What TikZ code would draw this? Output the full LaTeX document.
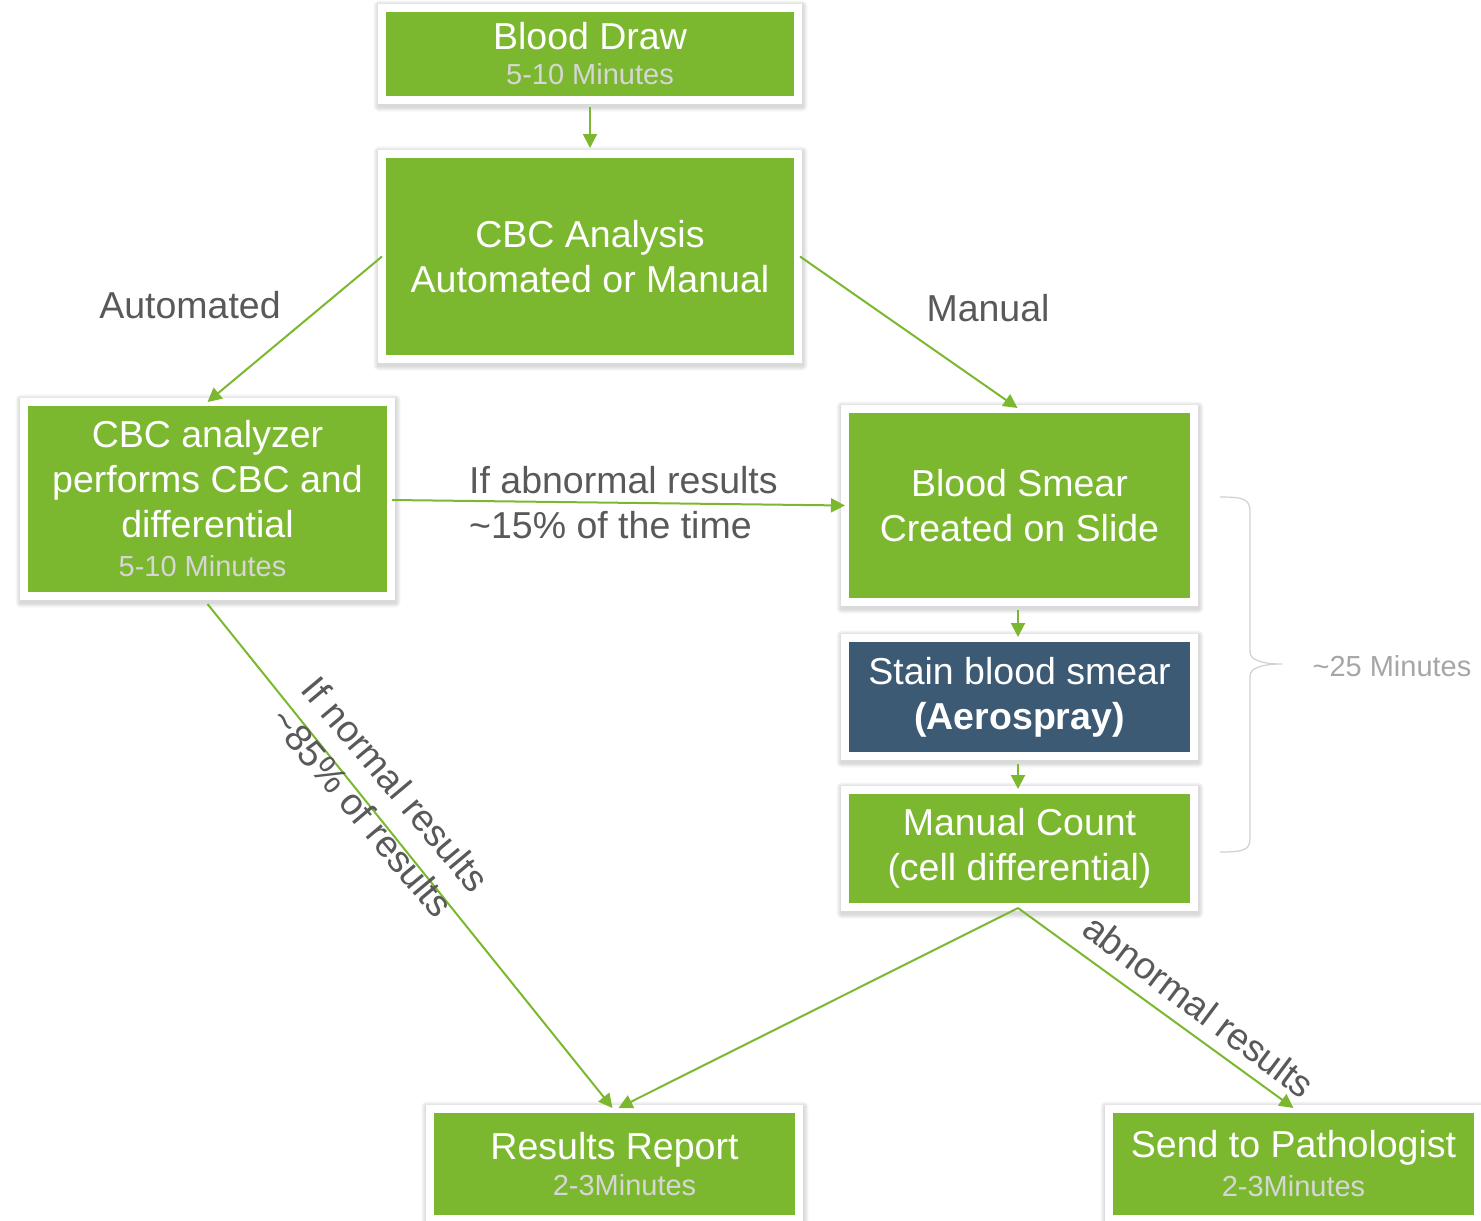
\documentclass[tikz,border=0pt]{standalone}
\usepackage{fontspec}
\setmainfont{Liberation Sans}
\usetikzlibrary{arrows.meta,backgrounds}
\definecolor{cgreen}{HTML}{7CB82F}
\definecolor{cblue}{HTML}{3D5A74}
\definecolor{csub}{HTML}{D6D6D6}
\definecolor{clabel}{HTML}{595959}
\definecolor{cnote}{HTML}{A6A6A6}
\definecolor{cbrace}{HTML}{D0D0D0}
\newcommand\boxsub[1]{{\fontsize{29}{33}\selectfont\color{csub}#1}}
\newcommand\softshadow[1]{%
  \foreach \k in {1,2,3,4,5}{%
    \fill[black, opacity=.03, rounded corners=\k pt]
      ([xshift=-\k pt+0.5pt, yshift=\k pt-1.5pt]#1.north west) rectangle
      ([xshift=\k pt+0.5pt, yshift=-\k pt-2.5pt]#1.south east);
  }}
\begin{document}
\begin{tikzpicture}[x=1pt,y=-1pt,
  box/.style={draw=white, line width=8pt, fill=cgreen, text=white, align=center, inner sep=0pt,
    font=\fontsize{37.5}{45}\selectfont},
  conn/.style={draw=cgreen, line width=2pt, -{Triangle[length=14pt,width=14pt]}},
  lbl/.style={text=clabel, font=\fontsize{37.5}{45}\selectfont, inner sep=0pt}]
\useasboundingbox (0,0) rectangle (1481,1221);

% boxes
\node[box, minimum width=416pt, minimum height=92pt] (bd) at (590,54)
  {Blood Draw\\[-10pt]\boxsub{5-10 Minutes}};
\node[box, minimum width=416pt, minimum height=205pt] (cbc) at (590,256.5)
  {CBC Analysis\\Automated or Manual};
\node[box, minimum width=367pt, minimum height=194pt] (ana) at (207.5,499)
  {CBC analyzer\\performs CBC and\\differential\\[-6pt]\hspace*{-10pt}\boxsub{5-10 Minutes}};
\node[box, minimum width=349pt, minimum height=193pt] (smear) at (1019.5,505.5)
  {Blood Smear\\Created on Slide};
\node[box, fill=cblue, minimum width=349pt, minimum height=118pt] (stain) at (1019.5,697)
  {Stain blood smear\\\textbf{(Aerospray)}};
\node[box, minimum width=349pt, minimum height=117pt] (mc) at (1019.5,848.5)
  {Manual Count\\(cell differential)};
\node[box, minimum width=369pt, minimum height=110pt] (rr) at (614.5,1164)
  {Results Report\\[-9pt]\hspace*{20pt}\boxsub{2-3Minutes}};
\node[box, minimum width=369pt, minimum height=110pt] (sp) at (1293.5,1164)
  {Send to Pathologist\\[-6pt]\boxsub{2-3Minutes}};

\begin{scope}[on background layer]
  \softshadow{bd}\softshadow{cbc}\softshadow{ana}\softshadow{smear}
  \softshadow{stain}\softshadow{mc}\softshadow{rr}\softshadow{sp}
\end{scope}

% connectors
\draw[conn] ([yshift=-3pt]bd.south) -- ([yshift=2pt]cbc.north);
\draw[conn] ([xshift=4pt]cbc.west) -- ([yshift=-4pt]ana.north);
\draw[conn] ([xshift=-2pt]cbc.east) -- ([xshift=-2pt,yshift=-3pt]smear.north);
\draw[conn] ([xshift=-3pt,yshift=-1pt]ana.east) -- ([xshift=4pt]smear.west);
\draw[conn] ([xshift=-1.5pt,yshift=-4pt]smear.south) -- ([xshift=-1.5pt,yshift=-3pt]stain.north);
\draw[conn] ([xshift=-1.5pt,yshift=-4pt]stain.south) -- ([xshift=-1.5pt,yshift=-3pt]mc.north);
\draw[conn] ([yshift=-4pt]ana.south) -- ([xshift=-2pt,yshift=-3pt]rr.north);
\draw[conn] ([xshift=-1.5pt,yshift=3pt]mc.south) -- ([xshift=4pt,yshift=-3pt]rr.north);
\draw[conn] ([xshift=-1.5pt,yshift=3pt]mc.south) -- ([xshift=0pt,yshift=-3pt]sp.north);

% labels
\node[lbl] (lauto) at (190,305) {Automated};
\node[lbl] (lman) at (988,308) {Manual};
\node[lbl, anchor=west, align=left] (labn) at (469,503) {If abnormal results\\\textasciitilde15\% of the time};
\node[lbl, rotate=-50, align=center, font=\fontsize{37.5}{44}\selectfont] (lnorm) at (379,798)
  {If normal results\\\textasciitilde85\% of results};
\node[lbl, rotate=-37] (labr) at (1199,1006) {abnormal results};

% brace
\draw[cbrace, line width=1.2pt]
  (1220,497) .. controls (1244,497) and (1250,499) .. (1250,512) -- (1250,652)
  .. controls (1250,660) and (1262,664) .. (1282,664)
  .. controls (1262,664) and (1250,668) .. (1250,676) -- (1250,838)
  .. controls (1250,850) and (1244,852) .. (1220,852);
\node[text=cnote, font=\fontsize{29}{33}\selectfont, inner sep=0pt] (l25) at (1392,666) {\textasciitilde25 Minutes};
\end{tikzpicture}
\end{document}
